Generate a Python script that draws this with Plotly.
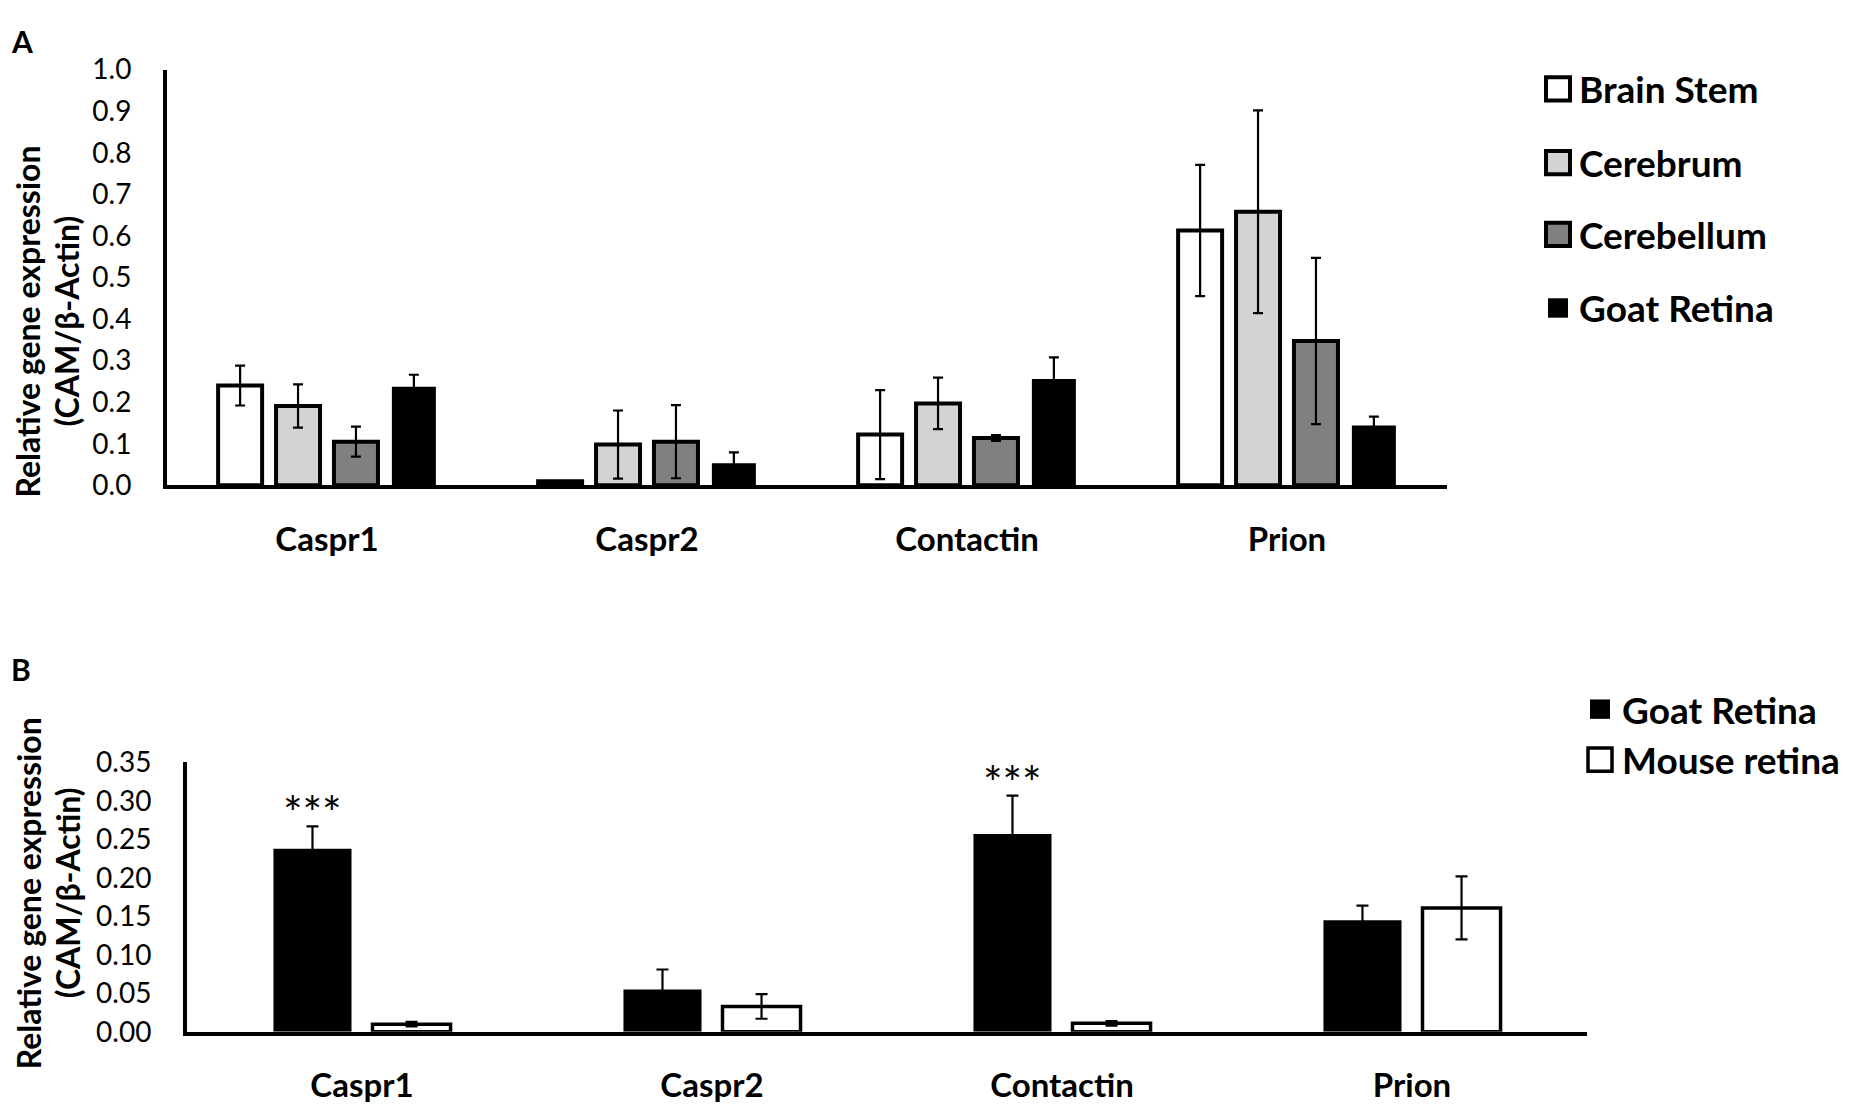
import plotly.graph_objects as go

genes = ["Caspr1", "Caspr2", "Contactin", "Prion"]

# panel A: tissues
tissues = ["Brain Stem", "Cerebrum", "Cerebellum", "Goat Retina"]
brain_stem = [0.240, 0.010, 0.122, 0.613]
brain_stem_err = [0.048, 0.000, 0.107, 0.158]
cerebrum = [0.191, 0.098, 0.197, 0.658]
cerebrum_err = [0.052, 0.082, 0.062, 0.244]
cerebellum = [0.105, 0.105, 0.114, 0.347]
cerebellum_err = [0.036, 0.088, 0.007, 0.200]
goat_retina = [0.237, 0.053, 0.256, 0.144]
goat_retina_err = [0.029, 0.026, 0.052, 0.021]

# panel B: goat vs mouse
species = ["Goat Retina", "Mouse retina"]
goat_b = [0.238, 0.055, 0.257, 0.145]
goat_b_err = [0.029, 0.026, 0.050, 0.019]
mouse_b = [0.010, 0.033, 0.011, 0.161]
mouse_b_err = [0.003, 0.016, 0.003, 0.041]
stars_genes = ["Caspr1", "Contactin"]

# the page adds an 8px body margin, so the figure is drawn 16px smaller
PAD = 8
W, H = 1850 - 2 * PAD, 1113 - 2 * PAD
FONT = "Lato, 'Open Sans', sans-serif"


def px(x):
    return (x - PAD) / W


def py(y):
    return 1 - (y - PAD) / H


fig = go.Figure()

# ---- panel A bars
a_fill = ["white", "#d3d3d3", "#808080", "black"]
a_line = [4, 4, 4, 0]
a_vals = [brain_stem, cerebrum, cerebellum, goat_retina]
a_errs = [brain_stem_err, cerebrum_err, cerebellum_err, goat_retina_err]
slot_a, width_a = 0.181, 0.1375
for i, name in enumerate(tissues):
    fig.add_trace(go.Bar(
        x=genes, y=a_vals[i], name=name,
        xaxis="x", yaxis="y",
        width=width_a, offset=(i - 1.5) * slot_a - width_a / 2,
        marker=dict(color=a_fill[i], line=dict(color="black", width=a_line[i])),
        error_y=dict(type="data", array=a_errs[i], color="black", thickness=2.2, width=5),
        showlegend=False,
    ))

# ---- panel B bars
b_fill = ["black", "white"]
b_line = [0, 3.5]
b_vals = [goat_b, mouse_b]
b_errs = [goat_b_err, mouse_b_err]
slot_b, width_b = 0.283, 0.223
for i, name in enumerate(species):
    fig.add_trace(go.Bar(
        x=genes, y=b_vals[i], name=name,
        xaxis="x2", yaxis="y2",
        width=width_b, offset=(i - 0.5) * slot_b - width_b / 2,
        marker=dict(color=b_fill[i], line=dict(color="black", width=b_line[i])),
        error_y=dict(type="data", array=b_errs[i], color="black", thickness=2.2, width=6),
        showlegend=False,
    ))

axis_common = dict(showline=True, linecolor="black", linewidth=4, showgrid=False,
                   zeroline=False, ticks="", fixedrange=True)

annotations = []
shapes = []

# significance stars above goat bars
for g in stars_genes:
    k = genes.index(g)
    annotations.append(dict(
        x=k + (0 - 0.5) * slot_b, y=goat_b[k] + goat_b_err[k] + 0.033,
        xref="x2", yref="y2", text="***", showarrow=False,
        font=dict(family=FONT, size=46, color="black"),
        xanchor="center", yanchor="middle", yshift=-12,
    ))

# y-axis titles (two lines each)
for yc in [313, 903]:
    annotations.append(dict(x=px(28), y=py(yc), xref="paper", yref="paper",
                            text="<b>Relative gene expression</b>", textangle=-90,
                            xanchor="center", yanchor="middle",
                            showarrow=False, font=dict(family=FONT, size=32, color="black")))
    annotations.append(dict(x=px(67), y=py(yc), xref="paper", yref="paper",
                            text="<b>(CAM/β-Actin)</b>", textangle=-90,
                            xanchor="center", yanchor="middle",
                            showarrow=False, font=dict(family=FONT, size=32, color="black")))

# panel letters
for letter, yt in [("A", 3), ("B", 651)]:
    annotations.append(dict(x=px(9), y=py(yt), xref="paper", yref="paper",
                            text="<b>%s</b>" % letter, showarrow=False,
                            xanchor="left", yanchor="top",
                            font=dict(family=FONT, size=30, color="black")))

# legend A (drawn by hand so the symbols are large)
leg_a_rows = [73, 149, 223, 299]
for i, name in enumerate(tissues):
    yc = leg_a_rows[i]
    s = 12 if a_line[i] else 10
    shapes.append(dict(type="rect", xref="paper", yref="paper",
                       x0=px(1558 - s), x1=px(1558 + s), y0=py(yc + s), y1=py(yc - s),
                       fillcolor=a_fill[i],
                       line=dict(color="black", width=a_line[i] if a_line[i] else 0)))
    annotations.append(dict(x=px(1577), y=py(yc), xref="paper", yref="paper",
                            text="<b>%s</b>" % name, showarrow=False,
                            xanchor="left", yanchor="middle",
                            font=dict(family=FONT, size=37, color="black")))

# legend B
leg_b_rows = [713, 765]
for i, name in enumerate(species):
    yc = leg_b_rows[i]
    s = 10 if not b_line[i] else 12
    shapes.append(dict(type="rect", xref="paper", yref="paper",
                       x0=px(1600 - s), x1=px(1600 + s), y0=py(yc + s), y1=py(yc - s),
                       fillcolor=b_fill[i],
                       line=dict(color="black", width=b_line[i] if b_line[i] else 0)))
    annotations.append(dict(x=px(1620), y=py(yc), xref="paper", yref="paper",
                            text="<b>%s</b>" % name, showarrow=False,
                            xanchor="left", yanchor="middle",
                            font=dict(family=FONT, size=37, color="black")))

fig.update_layout(
    width=W, height=H,
    margin=dict(l=0, r=0, t=0, b=0),
    paper_bgcolor="white", plot_bgcolor="white",
    barmode="overlay",
    showlegend=False,
    font=dict(family=FONT, color="black"),
    xaxis=dict(domain=[px(167), px(1447)], anchor="y",
               tickfont=dict(family=FONT, size=33, color="black", weight="bold"),
               ticklabelstandoff=22, **axis_common),
    yaxis=dict(domain=[py(482), py(53)], anchor="x", range=[0, 1.0], dtick=0.1,
               tickformat=".1f", tickfont=dict(family=FONT, size=28, color="black"),
               ticklabelstandoff=26, **axis_common),
    xaxis2=dict(domain=[px(187), px(1587)], anchor="y2",
                tickfont=dict(family=FONT, size=33, color="black", weight="bold"),
                ticklabelstandoff=22, **axis_common),
    yaxis2=dict(domain=[py(1046), py(768)], anchor="x2", range=[0, 0.35], dtick=0.05,
                tickformat=".2f", tickfont=dict(family=FONT, size=28, color="black"),
                ticklabelstandoff=26, **axis_common),
    annotations=annotations,
    shapes=shapes,
)

fig.write_html("out.html")
